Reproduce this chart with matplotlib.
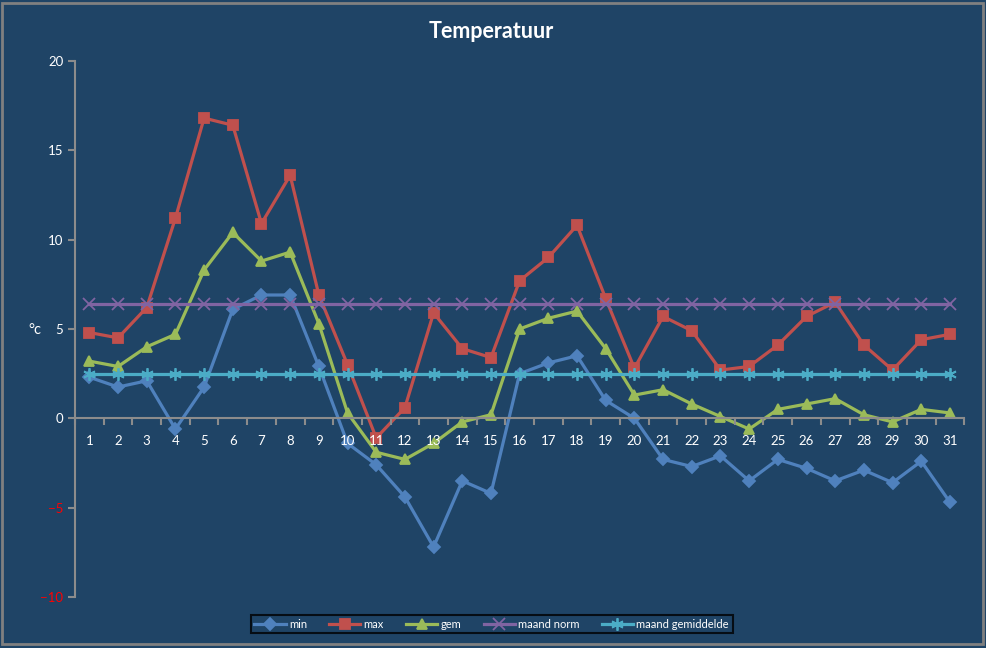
import matplotlib
matplotlib.use('Agg')
from matplotlib import pyplot as plt
from matplotlib.patches import Rectangle


days = list(range(1, 32))

t_min = [2.3, 1.75, 2.1, -0.6, 1.75, 6.1, 6.9, 6.9, 2.9, -1.4,
         -2.6, -4.4, -7.2, -3.5, -4.2, 2.5, 3.1, 3.5, 1.0, 0.0,
         -2.3, -2.7, -2.1, -3.5, -2.3, -2.8, -3.5, -2.9, -3.6, -2.4,
         -4.7]
t_max = [4.8, 4.5, 6.2, 11.2, 16.8, 16.4, 10.9, 13.6, 6.9, 3.0,
         -1.1, 0.6, 5.9, 3.9, 3.4, 7.7, 9.0, 10.8, 6.7, 2.8,
         5.7, 4.9, 2.7, 2.9, 4.1, 5.7, 6.5, 4.1, 2.7, 4.4,
         4.7]
t_gem = [3.2, 2.9, 4.0, 4.7, 8.3, 10.4, 8.8, 9.3, 5.3, 0.3,
         -1.9, -2.3, -1.4, -0.2, 0.2, 5.0, 5.6, 6.0, 3.9, 1.3,
         1.6, 0.8, 0.1, -0.6, 0.5, 0.8, 1.1, 0.2, -0.2, 0.5,
         0.3]
maand_norm = [6.4] * 31
maand_gem = [2.5] * 31

BG = '#1F4466'
GRID = '#8C8C8C'

plt.rcParams['font.family'] = ['Lato', 'DejaVu Sans']

fig = plt.figure(figsize=(9.87, 6.48), dpi=100, facecolor=BG)
ax = fig.add_axes([0.076, 0.0787, 0.901, 0.8273])
ax.set_facecolor(BG)

series = [
    (t_min, 'min', '#4F81BD', 'D', 6),
    (t_max, 'max', '#C0504D', 's', 7),
    (t_gem, 'gem', '#9BBB59', '^', 7.5),
    (maand_norm, 'maand norm', '#8064A2', 'x', 8),
    (maand_gem, 'maand gemiddelde', '#4BACC6', (6, 2, 0), 9),
]
for values, label, color, marker, ms in series:
    ax.plot(days, values, color=color, lw=2.3, marker=marker, ms=ms,
            mec=color, mew=1.3, label=label, zorder=2)

ax.set_xlim(0.5, 31.5)
ax.set_ylim(-10, 20)

for side in ['top', 'right']:
    ax.spines[side].set_visible(False)
ax.spines['left'].set_color(GRID)
ax.spines['left'].set_linewidth(1.5)
ax.spines['bottom'].set_position(('data', 0))
ax.spines['bottom'].set_color(GRID)
ax.spines['bottom'].set_linewidth(1.5)

ax.set_yticks(range(-10, 21, 5))
ax.tick_params(axis='y', colors=GRID, length=5, width=1.5, labelsize=9.5)
for lbl in ax.get_yticklabels():
    lbl.set_color('red' if lbl.get_text().startswith(('-', '\u2212')) else 'white')

ax.set_xticks(days)
ax.set_xticklabels([str(d) for d in days], color='white', fontsize=9.5)
ax.tick_params(axis='x', length=0, pad=12)
ax.set_xticks([d + 0.5 for d in range(0, 32)], minor=True)
ax.tick_params(axis='x', which='minor', length=5, width=1.5, color=GRID)
ax.xaxis.set_zorder(5)

fig.text(0.035, 0.49, '\u00b0c', color='white', fontsize=10.5,
         ha='center', va='center')
fig.text(0.498, 0.952, 'Temperatuur', color='white', fontsize=15.5,
         fontweight='bold', ha='center', va='center')

leg = fig.legend(loc='center', bbox_to_anchor=(0.498, 0.037), ncol=5,
                 fontsize=8, frameon=True, fancybox=False,
                 handlelength=2.8, columnspacing=2.0, handletextpad=0.3,
                 borderpad=0.35)
leg.get_frame().set_facecolor(BG)
leg.get_frame().set_edgecolor('black')
leg.get_frame().set_linewidth(1.5)
for txt in leg.get_texts():
    txt.set_color('white')

fig.patches.append(Rectangle((0.002, 0.006), 0.994, 0.99, transform=fig.transFigure,
                             fill=False, edgecolor='#808080', lw=2))

fig.savefig('out.png', dpi=100, facecolor=BG)
